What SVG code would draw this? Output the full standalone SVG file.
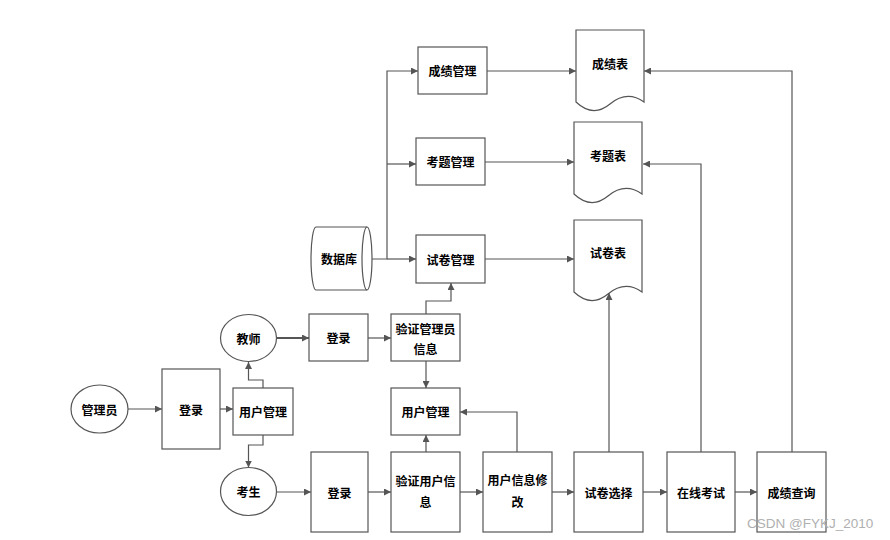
<svg xmlns="http://www.w3.org/2000/svg" width="890" height="540" viewBox="0 0 890 540">
<defs>
<marker id="arr" viewBox="0 0 10 10" refX="10" refY="5" markerWidth="7" markerHeight="7" markerUnits="userSpaceOnUse" orient="auto">
<path d="M0,0 L10,5 L0,10 z" fill="#555"/>
</marker>
<path id="doc" d="M0,0 H68 V72 Q51,60 34,74 T0,72 Z"/>
</defs>
<style>
.box{fill:#fff;stroke:#555;stroke-width:1.2}
.t{font-family:"Noto Sans CJK SC","Liberation Sans",sans-serif;font-size:12px;font-weight:bold;fill:#000;text-anchor:middle;dominant-baseline:central}
.c{fill:none;stroke:#555;stroke-width:1.2;marker-end:url(#arr)}
.l{fill:none;stroke:#555;stroke-width:1.2}
</style>
<rect width="890" height="540" fill="#fff"/>

<g id="connectors">
<path class="l" d="M367,259 H387 V164"/>
<path class="c" d="M387,259 H416"/>
<path class="c" d="M387,164 V71 H418"/>
<path class="c" d="M387,164 H416"/>
<path class="c" d="M487,71 H576"/>
<path class="c" d="M485,162 H574"/>
<path class="c" d="M485,259 H574"/>
<path class="c" d="M792,452 V71 H644"/>
<path class="c" d="M701,452 V164 H643"/>
<path class="c" d="M609,452 V293"/>
<path class="c" d="M128,409 H162"/>
<path class="c" d="M220,409 H233"/>
<path class="c" d="M263,388 V380 H248.5 V362"/>
<path class="c" d="M263,435 V445 H248.5 V467.5"/>
<path class="c" d="M277,338 H309" style="stroke-width:2"/>
<path class="c" d="M368,338 H391"/>
<path class="c" d="M426,314 V301 H451 V283"/>
<path class="c" d="M426,361 V388"/>
<path class="c" d="M277,492 H311"/>
<path class="c" d="M368,492 H391"/>
<path class="c" d="M460,492 H483"/>
<path class="c" d="M552,492 H574"/>
<path class="c" d="M643,492 H667"/>
<path class="c" d="M735,492 H757"/>
<path class="c" d="M426,452 V435"/>
<path class="c" d="M517,452 V412 H460"/>
</g>

<g id="db">
<path class="box" d="M316,227 H367 A5,31.5 0 0 1 367,290 H316 A5,31.5 0 0 1 316,227 Z"/>
<path class="l" d="M367,227 A5,31.5 0 0 0 367,290"/>
<text class="t" x="339" y="258.5">数据库</text>
</g>

<g id="score-mgmt"><rect class="box" x="418" y="47" width="69" height="47"/><text class="t" x="452.5" y="70.5">成绩管理</text></g>
<g id="question-mgmt"><rect class="box" x="416" y="138" width="69" height="47"/><text class="t" x="450.5" y="161.5">考题管理</text></g>
<g id="paper-mgmt"><rect class="box" x="416" y="235" width="69" height="48"/><text class="t" x="450.5" y="259">试卷管理</text></g>

<g id="score-table"><use href="#doc" class="box" transform="translate(576,30)"/><text class="t" x="610" y="63">成绩表</text></g>
<g id="question-table"><use href="#doc" class="box" transform="translate(574,122)"/><text class="t" x="608" y="155">考题表</text></g>
<g id="paper-table"><use href="#doc" class="box" transform="translate(574,220)"/><text class="t" x="608" y="252">试卷表</text></g>

<g id="admin"><ellipse class="box" cx="99.5" cy="409" rx="28.5" ry="24"/><text class="t" x="99.5" y="409">管理员</text></g>
<g id="admin-login"><rect class="box" x="162" y="369" width="58" height="80"/><text class="t" x="191" y="409">登录</text></g>
<g id="admin-user-mgmt"><rect class="box" x="233" y="388" width="60" height="47"/><text class="t" x="263" y="411.5">用户管理</text></g>
<g id="teacher"><ellipse class="box" cx="248.5" cy="338" rx="28" ry="23.5"/><text class="t" x="248.5" y="338">教师</text></g>
<g id="student"><ellipse class="box" cx="248.5" cy="491.5" rx="28" ry="24"/><text class="t" x="248.5" y="491.5">考生</text></g>
<g id="teacher-login"><rect class="box" x="309" y="314" width="59" height="47"/><text class="t" x="338.5" y="337.5">登录</text></g>
<g id="verify-admin"><rect class="box" x="391" y="314" width="69" height="47"/><text class="t" x="425.5" y="328">验证管理员</text><text class="t" x="425.5" y="348">信息</text></g>
<g id="user-mgmt"><rect class="box" x="391" y="388" width="69" height="47"/><text class="t" x="425.5" y="411.5">用户管理</text></g>
<g id="student-login"><rect class="box" x="311" y="452" width="57" height="80"/><text class="t" x="339.5" y="492">登录</text></g>
<g id="verify-user"><rect class="box" x="391" y="452" width="69" height="80"/><text class="t" x="425.5" y="480">验证用户信</text><text class="t" x="425.5" y="501">息</text></g>
<g id="user-info-edit"><rect class="box" x="483" y="452" width="69" height="80"/><text class="t" x="517.5" y="479">用户信息修</text><text class="t" x="517.5" y="501">改</text></g>
<g id="paper-select"><rect class="box" x="574" y="452" width="69" height="80"/><text class="t" x="608.5" y="492">试卷选择</text></g>
<g id="online-exam"><rect class="box" x="667" y="452" width="68" height="80"/><text class="t" x="701" y="492">在线考试</text></g>
<g id="score-query"><rect class="box" x="757" y="452" width="69" height="80"/><text class="t" x="791.5" y="492">成绩查询</text></g>

<text x="747" y="528" style="font-family:'Liberation Sans',Arial,sans-serif;font-size:13.5px;fill:#b0b0b0">CSDN @FYKJ_2010</text>
</svg>
